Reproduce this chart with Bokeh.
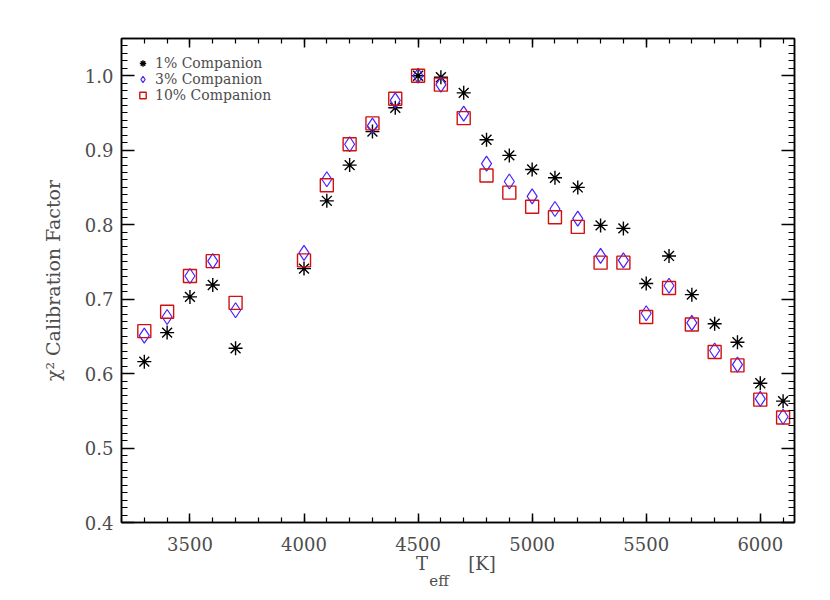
from bokeh.plotting import figure
from bokeh.models import (FixedTicker, LinearAxis, Legend, LegendItem, Range1d)
from bokeh.embed import file_html
from bokeh.resources import INLINE

# data
teff = [3300, 3400, 3500, 3600, 3700,
        4000, 4100, 4200, 4300, 4400, 4500, 4600, 4700, 4800, 4900, 5000,
        5100, 5200, 5300, 5400, 5500, 5600, 5700, 5800, 5900, 6000, 6100]

comp1 = [0.616, 0.655, 0.703, 0.719, 0.634,
         0.741, 0.832, 0.880, 0.925, 0.957, 1.000, 0.998, 0.977, 0.914, 0.893,
         0.874, 0.863, 0.850, 0.799, 0.795, 0.721, 0.758, 0.706, 0.667, 0.642,
         0.587, 0.563]
comp3 = [0.651, 0.676, 0.731, 0.751, 0.685,
         0.762, 0.861, 0.908, 0.933, 0.967, 1.000, 0.988, 0.949, 0.882, 0.858,
         0.838, 0.821, 0.808, 0.758, 0.752, 0.681, 0.718, 0.668, 0.631, 0.612,
         0.566, 0.542]
comp10 = [0.657, 0.683, 0.731, 0.751, 0.695,
          0.752, 0.853, 0.908, 0.936, 0.969, 1.000, 0.988, 0.943, 0.866, 0.843,
          0.824, 0.810, 0.797, 0.749, 0.749, 0.676, 0.715, 0.666, 0.629, 0.611,
          0.565, 0.541]

labels = ["1% Companion", "3% Companion", "10% Companion"]

x_ticks = [3500, 4000, 4500, 5000, 5500, 6000]
x_minor = list(range(3200, 6200, 100))
y_ticks = [0.4, 0.5, 0.6, 0.7, 0.8, 0.9, 1.0]
y_minor = [round(0.40 + 0.01 * i, 2) for i in range(66)]

x_range = (3200, 6150)
y_range = (0.4, 1.05)

FONT = "DejaVu Serif"
TEXT = "#4d4d4d"

p = figure(width=814, height=592, output_backend="svg", toolbar_location=None,
           x_range=Range1d(*x_range), y_range=Range1d(*y_range),
           min_border_left=121, min_border_right=20,
           min_border_top=38, min_border_bottom=69)
p.grid.visible = False
p.outline_line_color = "black"
p.outline_line_width = 1.5

# main axes: ticks pointing inwards like IDL
p.xaxis.ticker = FixedTicker(ticks=x_ticks, minor_ticks=x_minor)
p.yaxis.ticker = FixedTicker(ticks=y_ticks, minor_ticks=y_minor)
p.xaxis.major_label_overrides = {t: str(t) for t in x_ticks}
p.yaxis.major_label_overrides = {t: "%.1f" % t for t in y_ticks}

for ax, big, small in ((p.xaxis, 9, 5), (p.yaxis, 13, 6)):
    ax.major_tick_in = big
    ax.major_tick_out = 0
    ax.minor_tick_in = small
    ax.minor_tick_out = 0
    ax.axis_line_width = 1.5
    ax.major_tick_line_width = 1.5
    ax.minor_tick_line_width = 1.2
    ax.major_label_text_font = FONT
    ax.major_label_text_font_size = "18px"
    ax.major_label_text_color = TEXT

p.xaxis.major_label_standoff = 14
p.yaxis.major_label_standoff = 8
p.yaxis.axis_label = "\u03c7\u00b2 Calibration Factor"
p.yaxis.axis_label_text_font = FONT
p.yaxis.axis_label_text_font_size = "19px"
p.yaxis.axis_label_text_font_style = "normal"
p.yaxis.axis_label_text_color = TEXT
p.yaxis.axis_label_standoff = 18

# mirrored ticks on top and right (labels not drawn)
top = LinearAxis(ticker=FixedTicker(ticks=x_ticks, minor_ticks=x_minor),
                 major_tick_in=9, major_tick_out=0, minor_tick_in=5,
                 minor_tick_out=0, major_label_text_color=None,
                 major_label_text_font_size="8px",
                 major_label_standoff=0, axis_line_width=1.5,
                 major_tick_line_width=1.5, minor_tick_line_width=1.2)
right = LinearAxis(ticker=FixedTicker(ticks=y_ticks, minor_ticks=y_minor),
                   major_tick_in=13, major_tick_out=0, minor_tick_in=6,
                   minor_tick_out=0, major_label_text_color=None,
                   major_label_text_font_size="8px",
                   major_label_standoff=0, axis_line_width=1.5,
                   major_tick_line_width=1.5, minor_tick_line_width=1.2)
p.add_layout(top, "above")
p.add_layout(right, "right")

# x title "T_eff [K]": two bare axes below the real one carry its pieces
px = (x_range[1] - x_range[0]) / 673.0
xmid = (x_range[0] + x_range[1]) / 2
x_T = int(round(xmid - 36 * px))
x_eff = int(round(xmid - 19 * px))
x_K = int(round(xmid + 24 * px))


def bare_axis(ticks, texts, size, standoff):
    return LinearAxis(ticker=FixedTicker(ticks=ticks),
                      major_label_overrides=dict(zip(ticks, texts)),
                      axis_line_color=None, major_tick_line_color=None,
                      minor_tick_line_color=None, major_tick_in=0,
                      major_tick_out=0, minor_tick_in=0, minor_tick_out=0,
                      major_label_standoff=standoff,
                      major_label_text_font=FONT,
                      major_label_text_font_size=size,
                      major_label_text_color=TEXT)


p.add_layout(bare_axis([x_T, x_K], ["T", "[K]"], "18px", -1), "below")
p.add_layout(bare_axis([x_eff], ["eff"], "15px", -5), "below")

r1 = p.scatter(teff, comp1, marker="asterisk", size=14, line_color="black",
               line_width=1.4)
r3 = p.scatter(teff, comp3, marker="diamond", size=15,
               fill_color=None, line_color="#4a22ff", line_width=1.2)
r10 = p.scatter(teff, comp10, marker="square", size=13, fill_color=None,
                line_color="#d01010", line_width=1.4)

legend = Legend(items=[LegendItem(label=labels[0], renderers=[r1]),
                       LegendItem(label=labels[1], renderers=[r3]),
                       LegendItem(label=labels[2], renderers=[r10])],
                location=(13, 419), orientation="vertical",
                background_fill_alpha=0, border_line_color=None,
                padding=0, margin=0, spacing=0,
                glyph_width=17, glyph_height=16, label_height=16,
                label_standoff=4, label_text_font=FONT,
                label_text_font_size="14px", label_text_color=TEXT)
p.add_layout(legend)

open("out.html", "w").write(file_html(p, INLINE))
